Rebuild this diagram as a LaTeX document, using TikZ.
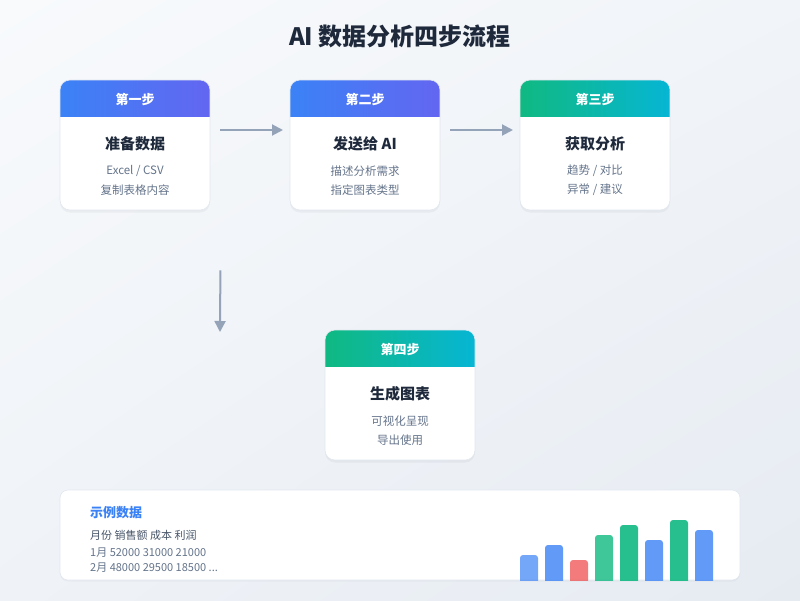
\documentclass[tikz,border=0pt]{standalone}
\usepackage{fontspec}
\setmainfont{Noto Sans CJK SC}
\usetikzlibrary{arrows.meta,calc,shadings}
\definecolor{bgA}{HTML}{F8FAFC}
\definecolor{bgB}{HTML}{E6EBF2}
\definecolor{titlec}{HTML}{1E293B}
\definecolor{subc}{HTML}{64748B}
\definecolor{darkc}{HTML}{475569}
\definecolor{blueA}{HTML}{3B82F6}
\definecolor{blueB}{HTML}{6366F1}
\definecolor{greenA}{HTML}{10B981}
\definecolor{greenB}{HTML}{06B6D4}
\definecolor{borderc}{HTML}{E2E8F0}
\definecolor{arrowc}{HTML}{94A3B8}
\definecolor{barblue}{HTML}{3B82F6}
\definecolor{barred}{HTML}{EF4444}
\definecolor{bargreen}{HTML}{10B981}
\colorlet{bgC}{bgA!60!bgB}
\colorlet{bgD}{bgA!50!bgB}
\tikzset{
  headtxt/.style={text=white,font=\bfseries\fontsize{13}{15}\selectfont},
  cardtitle/.style={text=titlec,font=\bfseries\fontsize{15}{18}\selectfont},
  cardline/.style={text=subc,font=\fontsize{11.5}{14}\selectfont},
  flow/.style={draw=arrowc,line width=2pt,-{Triangle[length=11pt,width=11pt]}},
  cardbox/.style={minimum width=150pt,minimum height=130pt,inner sep=0pt,anchor=north west},
  paneltxt/.style={anchor=west,inner sep=0pt}
}
\newcommand\stepcard[9]{%
  \fill[black,opacity=0.04,rounded corners=10pt] (#2,#3+1.5) rectangle ++(150,131);
  \begin{scope}
    \clip[rounded corners=10pt] (#2,#3) rectangle ++(150,130);
    \fill[white] (#2,#3) rectangle ++(150,130);
    \shade[left color=#4,right color=#5] (#2,#3) rectangle ++(150,36);
  \end{scope}
  \draw[borderc,line width=0.6pt,rounded corners=10pt] (#2,#3) rectangle ++(150,130);
  \node[cardbox] (#1) at (#2,#3) {};
  \node[headtxt] (#1h) at (#2+75,#3+19) {#6};
  \node[cardtitle] (#1t) at (#2+75,#3+64) {#7};
  \node[cardline] (#1a) at (#2+75,#3+91) {#8};
  \node[cardline] (#1b) at (#2+75,#3+110) {#9};
}
\begin{document}
\begin{tikzpicture}[x=1pt,y=-1pt]
\useasboundingbox (0,0) rectangle (800,600);
\shade[upper left=bgA,upper right=bgC,lower left=bgD,lower right=bgB] (0,0) rectangle (800,600);
\node[text=titlec,font=\bfseries\fontsize{24}{28}\selectfont] (title) at (400,36) {AI 数据分析四步流程};
\stepcard{c1}{60}{80}{blueA}{blueB}{第一步}{准备数据}{Excel / CSV}{复制表格内容}
\stepcard{c2}{290}{80}{blueA}{blueB}{第二步}{发送给 AI}{描述分析需求}{指定图表类型}
\stepcard{c3}{520}{80}{greenA}{greenB}{第三步}{获取分析}{趋势 / 对比}{异常 / 建议}
\stepcard{c4}{325}{330}{greenA}{greenB}{第四步}{生成图表}{可视化呈现}{导出使用}
\draw[flow] ($(c1.north east)+(10,50)$) -- ($(c2.north west)+(-7,50)$);
\draw[flow] ($(c2.north east)+(10,50)$) -- ($(c3.north west)+(-7,50)$);
\draw[flow] ($(c1.south east)+(10,60)$) -- ($(c4.north west)+(-105,2)$);
% sample panel
\fill[black,opacity=0.03,rounded corners=8pt] (60,491.5) rectangle (740,581.5);
\fill[white,rounded corners=8pt] (60,490) rectangle (740,580);
\draw[borderc,line width=0.6pt,rounded corners=8pt] (60,490) rectangle (740,580);
\node[paneltxt,text=blueA,font=\bfseries\fontsize{13}{15}\selectfont] (ptitle) at (90,513) {示例数据};
\node[paneltxt,text=darkc,font=\fontsize{11}{13}\selectfont] (phead) at (90,535) {月份 销售额 成本 利润};
\node[paneltxt,text=subc,font=\fontsize{11}{13}\selectfont] (prow1) at (90,553) {1月 52000 31000 21000};
\node[paneltxt,text=subc,font=\fontsize{11}{13}\selectfont] (prow2) at (90,568) {2月 48000 29500 18500 ...};
\begin{scope}
\clip (0,0) rectangle (800,580);
\foreach \x/\t/\c/\o in {520/555/barblue/0.7,545/545/barblue/0.8,570/560/barred/0.7,595/535/bargreen/0.8,620/525/bargreen/0.9,645/540/barblue/0.8,670/520/bargreen/0.9,695/530/barblue/0.8}{
  \fill[\c,opacity=\o,rounded corners=3pt] (\x,\t) rectangle (\x+18,586);
}
\end{scope}
\end{tikzpicture}
\end{document}
